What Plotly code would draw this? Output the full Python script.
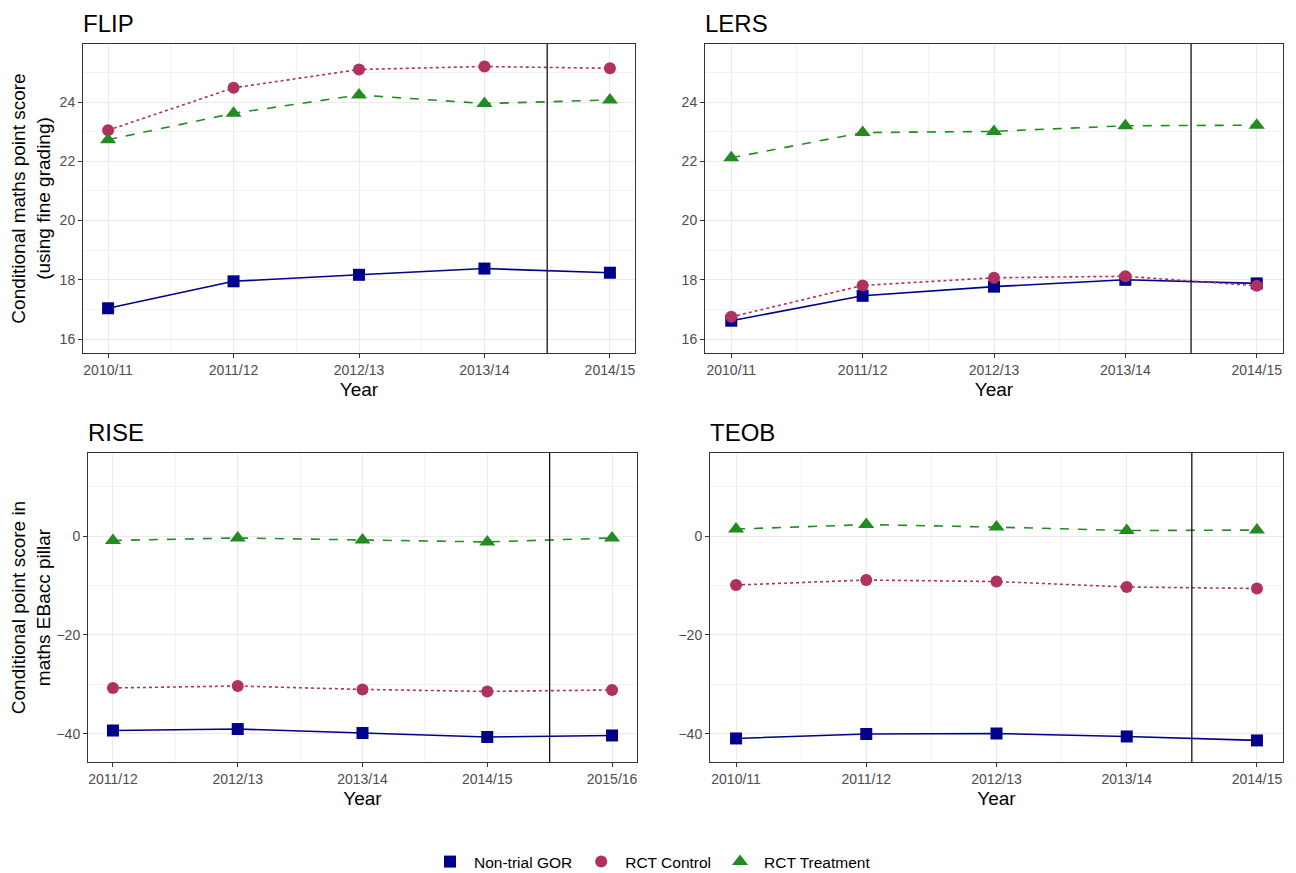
import plotly.graph_objects as go

# ---------------- data ----------------
years_a = ["2010/11", "2011/12", "2012/13", "2013/14", "2014/15"]
years_b = ["2011/12", "2012/13", "2013/14", "2014/15", "2015/16"]

flip_gor = [17.04, 17.95, 18.17, 18.38, 18.24]
flip_control = [23.05, 24.48, 25.10, 25.20, 25.14]
flip_treatment = [22.73, 23.62, 24.24, 23.95, 24.07]

lers_gor = [16.62, 17.46, 17.77, 18.00, 17.88]
lers_control = [16.75, 17.81, 18.07, 18.12, 17.80]
lers_treatment = [22.12, 22.97, 23.01, 23.20, 23.22]

rise_gor = [-39.3, -39.0, -39.8, -40.6, -40.3]
rise_control = [-30.7, -30.3, -31.0, -31.4, -31.1]
rise_treatment = [-0.9, -0.4, -0.8, -1.2, -0.4]

teob_gor = [-40.9, -40.0, -39.9, -40.5, -41.3]
teob_control = [-9.9, -8.9, -9.2, -10.3, -10.6]
teob_treatment = [1.4, 2.3, 1.8, 1.1, 1.2]

panel_titles = ["FLIP", "LERS", "RISE", "TEOB"]
series_names = ["Non-trial GOR", "RCT Control", "RCT Treatment"]

# ---------------- style ----------------
OFF = 8  # page body margin
W, H = 1296 - OFF, 873 - OFF
colors = ["#00008B", "#B03060", "#228B22"]
symbols = ["square", "circle", "triangle-up"]
msizes = [12, 12, 14]
dashes = ["solid", "dot", "dash"]
FONT = "Liberation Sans, Arial, sans-serif"

# panel pixel boxes in page coordinates: (left, right, top, bottom)
boxes = [(83, 635, 44, 353), (705, 1283, 44, 353),
         (88, 637, 453, 762), (710, 1283, 453, 762)]

panels = [
    (years_a, [flip_gor, flip_control, flip_treatment]),
    (years_a, [lers_gor, lers_control, lers_treatment]),
    (years_b, [rise_gor, rise_control, rise_treatment]),
    (years_a, [teob_gor, teob_control, teob_treatment]),
]


def px_x(v):
    return (v - OFF) / W


def px_y(v):
    return 1 - (v - OFF) / H


fig = go.Figure()
layout = {}
annotations = []
shapes = []

for i, ((cats, series), box) in enumerate(zip(panels, boxes)):
    n = i + 1
    xa = "x" if n == 1 else f"x{n}"
    ya = "y" if n == 1 else f"y{n}"
    xpos = list(range(1, len(cats) + 1))
    for s, vals in enumerate(series):
        fig.add_trace(go.Scatter(
            x=xpos, y=vals, xaxis=xa, yaxis=ya, mode="lines+markers",
            name=series_names[s], showlegend=False,
            line=dict(color=colors[s], width=1.6, dash=dashes[s]),
            marker=dict(color=colors[s], symbol=symbols[s], size=msizes[s],
                        line=dict(width=0)),
        ))
    l, r, t, b = box
    top_row = i < 2
    yr = [15.53, 25.96] if top_row else [-45.66, 16.77]
    ymajor = 2 if top_row else 20
    yminor = 1 if top_row else 10
    axis_common = dict(
        showline=True, mirror=True, linecolor="#333333", linewidth=1,
        ticks="outside", ticklen=4, tickcolor="#333333", tickwidth=1,
        tickfont=dict(family=FONT, size=14, color="#4D4D4D"),
        gridcolor="#EBEBEB", gridwidth=1.1, zeroline=False,
    )
    layout[f"xaxis{n if n > 1 else ''}"] = dict(
        axis_common, domain=[px_x(l), px_x(r)], anchor=ya,
        range=[0.8, 5.2], tickmode="array", tickvals=xpos, ticktext=cats,
        minor=dict(tickmode="linear", tick0=0.5, dtick=1, showgrid=True,
                   gridcolor="#F2F2F2", gridwidth=0.6, ticks=""),
        title=dict(text="Year", font=dict(family=FONT, size=19, color="#000000"),
                   standoff=5),
    )
    ytitle = ("Conditional maths point score<br>(using fine grading)" if top_row
              else "Conditional point score in<br>maths EBacc pillar")
    layout[f"yaxis{n if n > 1 else ''}"] = dict(
        axis_common, domain=[px_y(b), px_y(t)], anchor=xa,
        range=yr, tickmode="linear", tick0=0, dtick=ymajor,
        minor=dict(tickmode="linear", tick0=0, dtick=yminor, showgrid=True,
                   gridcolor="#F2F2F2", gridwidth=0.6, ticks=""),
        title=dict(text=ytitle if n in (1, 3) else "",
                   font=dict(family=FONT, size=19, color="#000000"), standoff=4),
    )
    annotations.append(dict(
        text=panel_titles[i], xref="paper", yref="paper",
        x=px_x(l - 1), y=px_y(t - 20.5), xanchor="left", yanchor="middle",
        borderpad=0,
        showarrow=False, font=dict(family=FONT, size=24, color="#000000"),
    ))
    shapes.append(dict(
        type="line", xref=xa, yref=f"{ya} domain", x0=4.5, x1=4.5, y0=0, y1=1,
        line=dict(color="#000000", width=1.2),
    ))

# legend-only entries (markers only, as in the reference)
for s in range(3):
    fig.add_trace(go.Scatter(
        x=[None], y=[None], mode="markers", name=series_names[s],
        marker=dict(color=colors[s], symbol=symbols[s], size=msizes[s]),
        showlegend=True,
    ))

fig.update_layout(
    width=W, height=H,
    margin=dict(l=0, r=0, t=0, b=0, autoexpand=False),
    paper_bgcolor="white", plot_bgcolor="white",
    showlegend=True,
    legend=dict(orientation="h", x=px_x(651), xanchor="center", y=px_y(862),
                yanchor="middle", font=dict(family=FONT, size=15.5, color="#000000"),
                itemwidth=38, tracegroupgap=0),
    annotations=annotations, shapes=shapes,
    **layout,
)

fig.write_html("out.html")
